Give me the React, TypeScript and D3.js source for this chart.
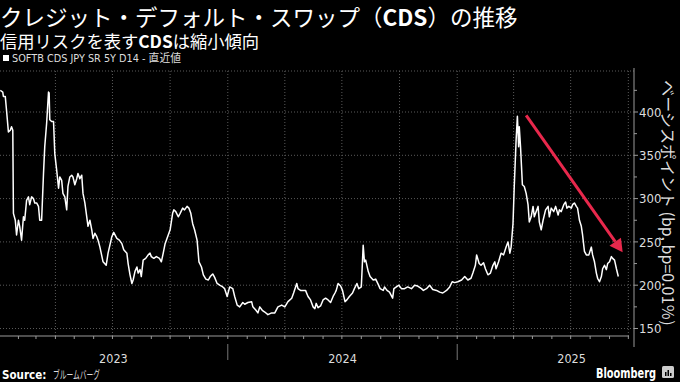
import React from "react";
import * as d3 from "d3";

const titleA = "クレジット・デフォルト・スワップ（";
const titleB = "CDS";
const titleC = "）の推移";
const subtitleA = "信用リスクを表す";
const subtitleB = "CDS";
const subtitleC = "は縮小傾向";
const legendLabel = "SOFTB CDS JPY SR 5Y D14 - 直近値";
const yAxisTitle = "ベーシスポイント (bp, bp=0.01％)";
const yTicks = [150, 200, 250, 300, 350, 400];
const yearLabels = ["2023", "2024", "2025"];
const baseDate = "2023-01-01";

// days after 2023-01-01
const dayOffsets = [
  2, 6, 7, 10, 12, 15, 18, 20, 22, 23, 26, 28, 31, 33, 36, 39, 41, 44, 47, 49,
  52, 55, 57, 60, 63, 65, 68, 71, 73, 76, 79, 80, 81, 84, 87, 89, 92, 95, 97, 100,
  102, 105, 108, 110, 113, 116, 118, 121, 124, 126, 129, 132, 134, 137, 140, 142, 145, 148, 150, 153,
  156, 158, 161, 166, 171, 174, 180, 183, 188, 192, 196, 199, 204, 206, 209, 212, 214, 217, 220, 222,
  225, 227, 230, 234, 238, 241, 243, 247, 251, 256, 259, 262, 265, 267, 273, 277, 279, 282, 286, 289,
  293, 296, 300, 303, 306, 309, 312, 316, 319, 323, 326, 330, 334, 337, 341, 344, 348, 352, 357, 360,
  364, 368, 373, 376, 380, 384, 389, 392, 397, 403, 405, 410, 413, 416, 420, 424, 429, 435, 440, 445,
  451, 456, 461, 467, 470, 475, 477, 481, 485, 489, 493, 497, 501, 504, 506, 509, 513, 517, 521, 525,
  529, 533, 536, 538, 541, 545, 548, 552, 555, 559, 564, 567, 571, 574, 578, 581, 583, 585, 589, 592,
  597, 601, 605, 608, 613, 615, 619, 623, 628, 630, 634, 638, 642, 647, 652, 658, 663, 668, 674, 677,
  682, 687, 692, 698, 703, 708, 714, 719, 723, 727, 732, 738, 743, 748, 753, 756, 760, 762, 766, 769,
  773, 776, 780, 784, 788, 791, 793, 797, 801, 805, 809, 812, 815, 817, 820, 822, 825, 827, 829, 830,
  832, 835, 838, 841, 844, 846, 849, 852, 854, 857, 860, 862, 865, 868, 872, 876, 878, 881, 885, 888,
  892, 894, 897, 901, 904, 906, 909, 913, 915, 918, 921, 923, 926, 929, 931, 934, 937, 941, 945, 947,
  950, 953, 955, 958, 961, 963, 966, 969, 971, 974, 977, 979, 982, 985, 988,
];

// basis points
const cdsValues = [
  425, 423, 418, 418, 402, 377, 379, 383, 379, 283, 275, 258, 275, 268, 252, 279, 275, 298, 302, 293,
  302, 300, 295, 295, 291, 275, 275, 329, 360, 387, 423, 422, 391, 389, 389, 352, 333, 312, 325, 321,
  306, 302, 287, 314, 325, 327, 325, 316, 323, 329, 323, 327, 306, 295, 279, 268, 275, 264, 254, 260,
  256, 252, 244, 227, 223, 237, 256, 261, 254, 252, 248, 241, 237, 225, 212, 202, 206, 216, 221, 214,
  218, 210, 229, 231, 235, 237, 233, 231, 233, 231, 227, 237, 248, 252, 264, 283, 287, 285, 279, 283,
  289, 287, 291, 289, 283, 271, 264, 252, 227, 221, 212, 207, 206, 210, 213, 209, 202, 200, 198, 196,
  187, 198, 196, 187, 177, 175, 180, 178, 180, 181, 175, 171, 168, 175, 171, 169, 166, 168, 168, 175,
  177, 175, 181, 185, 191, 202, 196, 194, 194, 194, 187, 183, 175, 173, 179, 174, 176, 183, 185, 183,
  180, 187, 191, 194, 202, 199, 194, 181, 183, 187, 191, 196, 202, 196, 198, 246, 227, 229, 216, 210,
  206, 207, 201, 196, 194, 198, 194, 192, 185, 196, 198, 200, 196, 196, 198, 196, 200, 199, 196, 194,
  196, 200, 195, 194, 192, 191, 194, 198, 204, 203, 204, 206, 210, 206, 208, 214, 223, 235, 225, 223,
  226, 219, 212, 214, 223, 227, 219, 227, 237, 235, 244, 250, 237, 244, 271, 314, 368, 395, 360, 383,
  360, 316, 314, 306, 293, 273, 279, 291, 279, 285, 291, 273, 264, 275, 287, 291, 279, 289, 285, 291,
  281, 287, 285, 293, 296, 289, 291, 289, 293, 295, 291, 289, 275, 268, 258, 239, 235, 235, 244, 235,
  227, 214, 208, 204, 210, 219, 223, 218, 225, 227, 233, 231, 229, 219, 210,
];

// annotation arrow (day offset, value) endpoints
const arrowFrom = { day: 841, value: 396 };
const arrowTo = { day: 995, value: 238 };

const W = 680;
const H = 382;
const plotTop = 71;
const plotBottom = 336;
const axisX = 634;

export default function App() {
  const start = d3.isoParse(baseDate + "T00:00:00Z") as Date;
  const parse = (d: number) => d3.utcDay.offset(start, d);
  const x = d3
    .scaleUtc()
    .domain([start, d3.utcYear.offset(start, 3)])
    .range([-1, 686]);
  const y = d3.scaleLinear().domain([150, 400]).range([328.5, 112]);

  const data = dayOffsets.map((d, i) => ({ date: parse(d), v: cdsValues[i] }));
  const line = d3
    .line<{ date: Date; v: number }>()
    .x((d) => x(d.date))
    .y((d) => y(d.v));

  const lastDate = d3.utcDay.offset(start, 1010);
  const quarters = d3.utcMonth.every(3)!.range(d3.utcMonth.offset(start, 3), lastDate);
  const months = d3.utcMonth.range(d3.utcMonth.offset(start, 1), lastDate);
  const years = yearLabels.map((yl) => d3.isoParse(yl + "-01-01T00:00:00Z") as Date);
  const minorY = d3.range(150, 450, 25);

  const ax1 = x(parse(arrowFrom.day));
  const ay1 = y(arrowFrom.value);
  const ax2 = x(parse(arrowTo.day));
  const ay2 = y(arrowTo.value);
  const ang = Math.atan2(ay2 - ay1, ax2 - ax1);
  const headLen = 13;
  const headW = 7;
  const bx = ax2 - headLen * Math.cos(ang);
  const by = ay2 - headLen * Math.sin(ang);
  const px = -Math.sin(ang) * headW;
  const py = Math.cos(ang) * headW;

  const font = "'Noto Sans CJK JP', 'Noto Sans', sans-serif";
  const latin = "'DejaVu Sans Condensed', 'Noto Sans CJK JP', sans-serif";
  const gridColor = "#5a5a5a";

  return (
    <svg
      width={W}
      height={H}
      style={{ position: "absolute", left: 0, top: 0, background: "#000" }}
      fontFamily={font}
    >
      <rect x={0} y={0} width={W} height={H} fill="#000" />
      {/* title */}
      <text x={0} y={26} fill="#fff" fontSize={22.5}>
        <tspan>{titleA}</tspan>
        <tspan fontWeight="bold">{titleB}</tspan>
        <tspan>{titleC}</tspan>
      </text>
      <text x={0} y={47.5} fill="#fff" fontSize={17.3}>
        <tspan>{subtitleA}</tspan>
        <tspan fontWeight="bold">{subtitleB}</tspan>
        <tspan>{subtitleC}</tspan>
      </text>
      {/* legend */}
      <rect x={3} y={55} width={6} height={6} fill="#fff" />
      <text x={12} y={62} fill="#ddd" fontSize={10.8} fontFamily={latin}>
        {legendLabel}
      </text>

      {/* grid */}
      <line x1={0} x2={axisX} y1={plotTop} y2={plotTop} stroke={gridColor} strokeDasharray="1,2" />
      {yTicks.map((t) => (
        <line key={"gy" + t} x1={0} x2={axisX} y1={y(t)} y2={y(t)} stroke={gridColor} strokeDasharray="1,2" />
      ))}
      {quarters.map((q) => (
        <line
          key={"gx" + q.toISOString()}
          x1={x(q)}
          x2={x(q)}
          y1={plotTop}
          y2={plotBottom}
          stroke={gridColor}
          strokeDasharray="1,2"
        />
      ))}

      {/* x axis */}
      <line x1={0} x2={629} y1={plotBottom} y2={plotBottom} stroke="#9a9a9a" strokeWidth={1} />
      {months.map((m) => (
        <line key={"mt" + m.toISOString()} x1={x(m)} x2={x(m)} y1={plotBottom} y2={plotBottom + 3} stroke="#9a9a9a" />
      ))}
      {years.slice(1).map((yy) => (
        <line key={"ys" + yy.toISOString()} x1={x(yy)} x2={x(yy)} y1={344} y2={360} stroke="#777" />
      ))}
      {years.map((yy, i) => {
        const mid = new Date((yy.getTime() + d3.utcYear.offset(yy, 1).getTime()) / 2);
        return (
          <text key={"yl" + i} x={x(mid)} y={363} fill="#ddd" fontSize={12.5} textAnchor="middle" fontFamily={latin}>
            {yearLabels[i]}
          </text>
        );
      })}

      {/* y axis */}
      <line x1={axisX} x2={axisX} y1={68} y2={347} stroke="#9a9a9a" />
      {minorY.map((t) => (
        <line key={"my" + t} x1={axisX} x2={axisX + (t % 50 === 0 ? 4 : 3)} y1={y(t)} y2={y(t)} stroke="#9a9a9a" />
      ))}
      {yTicks.map((t) => (
        <text key={"yt" + t} x={639} y={y(t)} dy="0.36em" fill="#ddd" fontSize={13} fontFamily={latin}>
          {t}
        </text>
      ))}
      <text
        transform={`translate(662, 203) rotate(90)`}
        textAnchor="middle"
        fill="#ddd"
        fontSize={16}
      >
        {yAxisTitle}
      </text>

      {/* series */}
      <path d={line(data) || ""} fill="none" stroke="#fff" strokeWidth={1.5} strokeLinejoin="round" />

      {/* arrow */}
      <line x1={ax1} y1={ay1} x2={bx} y2={by} stroke="#e8284c" strokeWidth={3} />
      <polygon
        points={`${ax2},${ay2} ${bx + px},${by + py} ${bx - px},${by - py}`}
        fill="#e8284c"
      />

      {/* footer */}
      <text x={2} y={379} fontSize={11.5} fill="#fff" fontWeight="bold" fontFamily={latin}>
        Source:
      </text>
      <text x={53} y={379} fontSize={11} fill="#ddd" textLength={47} lengthAdjust="spacingAndGlyphs">
        ブルームバーグ
      </text>
      <text x={596} y={378} fontSize={14} fill="#fff" fontWeight="bold" fontFamily={latin} textLength={60} lengthAdjust="spacingAndGlyphs">
        Bloomberg
      </text>
      <rect x={662} y={366} width={12} height={12} rx={1.5} fill="#ccc" />
      <rect x={665} y={372} width={1.5} height={4} fill="#000" />
      <rect x={667.5} y={370} width={1.5} height={6} fill="#000" />
      <rect x={670} y={373} width={1.5} height={3} fill="#000" />
    </svg>
  );
}
